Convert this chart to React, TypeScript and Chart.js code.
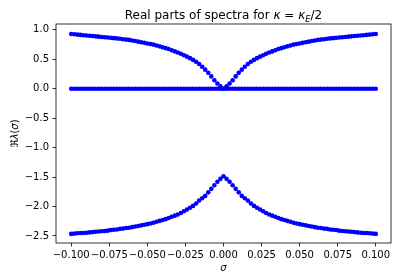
import { useEffect, useRef } from "react";
import { Chart, registerables } from "chart.js";

Chart.register(...registerables);

const FAMILY = '"DejaVu Sans", sans-serif';

const sigma = [
  -0.100, -0.098, -0.096, -0.094, -0.092, -0.090, -0.088, -0.086, -0.084, -0.082,
  -0.080, -0.078, -0.076, -0.074, -0.072, -0.070, -0.068, -0.066, -0.064, -0.062,
  -0.060, -0.058, -0.056, -0.054, -0.052, -0.050, -0.048, -0.046, -0.044, -0.042,
  -0.040, -0.038, -0.036, -0.034, -0.032, -0.030, -0.028, -0.026, -0.024, -0.022,
  -0.020, -0.018, -0.016, -0.014, -0.012, -0.010, -0.008, -0.006, -0.004, -0.002,
  0.000,
  0.002, 0.004, 0.006, 0.008, 0.010, 0.012, 0.014, 0.016, 0.018, 0.020,
  0.022, 0.024, 0.026, 0.028, 0.030, 0.032, 0.034, 0.036, 0.038, 0.040,
  0.042, 0.044, 0.046, 0.048, 0.050, 0.052, 0.054, 0.056, 0.058, 0.060,
  0.062, 0.064, 0.066, 0.068, 0.070, 0.072, 0.074, 0.076, 0.078, 0.080,
  0.082, 0.084, 0.086, 0.088, 0.090, 0.092, 0.094, 0.096, 0.098, 0.100,
];

const upperBranch = [
  0.93, 0.925, 0.92, 0.915, 0.91, 0.905, 0.90, 0.895, 0.89, 0.885,
  0.88, 0.875, 0.87, 0.865, 0.86, 0.855, 0.85, 0.84, 0.835, 0.83,
  0.82, 0.81, 0.80, 0.79, 0.78, 0.77, 0.76, 0.75, 0.735, 0.72,
  0.705, 0.69, 0.675, 0.655, 0.635, 0.615, 0.595, 0.57, 0.545, 0.52,
  0.49, 0.46, 0.42, 0.375, 0.325, 0.27, 0.21, 0.145, 0.09, 0.04,
  0.0,
  0.04, 0.09, 0.145, 0.21, 0.27, 0.325, 0.375, 0.42, 0.46, 0.49,
  0.52, 0.545, 0.57, 0.595, 0.615, 0.635, 0.655, 0.675, 0.69, 0.705,
  0.72, 0.735, 0.75, 0.76, 0.77, 0.78, 0.79, 0.80, 0.81, 0.82,
  0.83, 0.835, 0.84, 0.85, 0.855, 0.86, 0.865, 0.87, 0.875, 0.88,
  0.885, 0.89, 0.895, 0.90, 0.905, 0.91, 0.915, 0.92, 0.925, 0.93,
];

const zeroBranch = [
  0, 0, 0, 0, 0, 0, 0, 0, 0, 0,
  0, 0, 0, 0, 0, 0, 0, 0, 0, 0,
  0, 0, 0, 0, 0, 0, 0, 0, 0, 0,
  0, 0, 0, 0, 0, 0, 0, 0, 0, 0,
  0, 0, 0, 0, 0, 0, 0, 0, 0, 0,
  0,
  0, 0, 0, 0, 0, 0, 0, 0, 0, 0,
  0, 0, 0, 0, 0, 0, 0, 0, 0, 0,
  0, 0, 0, 0, 0, 0, 0, 0, 0, 0,
  0, 0, 0, 0, 0, 0, 0, 0, 0, 0,
  0, 0, 0, 0, 0, 0, 0, 0, 0, 0,
];

const lowerBranch = [
  -2.465, -2.46, -2.455, -2.45, -2.45, -2.445, -2.44, -2.435, -2.43, -2.425,
  -2.42, -2.415, -2.41, -2.40, -2.395, -2.39, -2.38, -2.375, -2.365, -2.36,
  -2.35, -2.34, -2.33, -2.32, -2.31, -2.30, -2.29, -2.275, -2.26, -2.245,
  -2.23, -2.215, -2.195, -2.175, -2.155, -2.135, -2.11, -2.08, -2.05, -2.02,
  -1.99, -1.95, -1.90, -1.86, -1.82, -1.76, -1.70, -1.64, -1.58, -1.53,
  -1.485,
  -1.53, -1.58, -1.64, -1.70, -1.76, -1.82, -1.86, -1.90, -1.95, -1.99,
  -2.02, -2.05, -2.08, -2.11, -2.135, -2.155, -2.175, -2.195, -2.215, -2.23,
  -2.245, -2.26, -2.275, -2.29, -2.30, -2.31, -2.32, -2.33, -2.34, -2.35,
  -2.36, -2.365, -2.375, -2.38, -2.39, -2.395, -2.40, -2.41, -2.415, -2.42,
  -2.425, -2.43, -2.435, -2.44, -2.445, -2.45, -2.45, -2.455, -2.46, -2.465,
];

const xTicks = [-0.1, -0.075, -0.05, -0.025, 0, 0.025, 0.05, 0.075, 0.1];
const yTicks = [-2.5, -2.0, -1.5, -1.0, -0.5, 0.0, 0.5, 1.0];

const fmt = (v: number, d: number) => {
  const s = Math.abs(v) < 1e-9 ? (0).toFixed(d) : v.toFixed(d);
  return s.replace("-", "\u2212");
};

type Part = { text: string; font: string; dy?: number };

function drawRich(ctx: CanvasRenderingContext2D, parts: Part[], cx: number, y: number) {
  let total = 0;
  for (const p of parts) {
    ctx.font = p.font;
    total += ctx.measureText(p.text).width;
  }
  let x = cx - total / 2;
  ctx.textAlign = "left";
  ctx.textBaseline = "alphabetic";
  for (const p of parts) {
    ctx.font = p.font;
    ctx.fillText(p.text, x, y + (p.dy || 0));
    x += ctx.measureText(p.text).width;
  }
}

const titleParts: Part[] = [
  { text: "Real parts of spectra for ", font: `12px ${FAMILY}` },
  { text: "\u03BA", font: `italic 12px ${FAMILY}` },
  { text: " = ", font: `12px ${FAMILY}` },
  { text: "\u03BA", font: `italic 12px ${FAMILY}` },
  { text: "E", font: `italic 8.4px ${FAMILY}`, dy: 2.5 },
  { text: "/2", font: `12px ${FAMILY}` },
];

const xLabelParts: Part[] = [{ text: "\u03C3", font: `italic 10px ${FAMILY}` }];

const yLabelParts: Part[] = [
  { text: "\u211C", font: `10px ${FAMILY}` },
  { text: "\u03BB", font: `italic 10px ${FAMILY}` },
  { text: "(", font: `10px ${FAMILY}` },
  { text: "\u03C3", font: `italic 10px ${FAMILY}` },
  { text: ")", font: `10px ${FAMILY}` },
];

const framePlugin = {
  id: "frameAndLabels",
  afterDraw(chart: any) {
    const { ctx, chartArea } = chart;
    const { left, right, top, bottom } = chartArea;
    ctx.save();
    ctx.strokeStyle = "#000";
    ctx.lineWidth = 0.8;
    ctx.strokeRect(left, top, right - left, bottom - top);
    ctx.fillStyle = "#000";
    const cx = (left + right) / 2;
    drawRich(ctx, titleParts, cx, 19);
    drawRich(ctx, xLabelParts, cx, 271);
    ctx.translate(18, (top + bottom) / 2);
    ctx.rotate(-Math.PI / 2);
    drawRich(ctx, yLabelParts, 0, 0);
    ctx.restore();
  },
};

export default function App() {
  const ref = useRef<HTMLCanvasElement>(null);

  useEffect(() => {
    if (!ref.current) return;
    const mk = (ys: number[]) => sigma.map((s, i) => ({ x: s, y: ys[i] }));
    const ds = (label: string, ys: number[]) => ({
      label,
      data: mk(ys),
      backgroundColor: "#0000ff",
      borderColor: "#0000ff",
      pointRadius: 2.3,
      pointBorderWidth: 0,
      showLine: false,
    });
    const tickFont = { family: FAMILY, size: 10 };
    const chart = new Chart(ref.current, {
      type: "scatter",
      data: {
        datasets: [ds("upper", upperBranch), ds("zero", zeroBranch), ds("lower", lowerBranch)],
      },
      options: {
        animation: false,
        responsive: false,
        layout: { padding: { left: 0, right: 6, top: 24, bottom: 0 } },
        plugins: { legend: { display: false }, tooltip: { enabled: false }, title: { display: false } },
        scales: {
          x: {
            type: "linear",
            min: -0.11,
            max: 0.11,
            afterBuildTicks: (s: any) => {
              s.ticks = xTicks.map((v) => ({ value: v }));
            },
            afterFit: (s: any) => {
              s.height = 37;
            },
            ticks: {
              callback: (v: any) => fmt(Number(v), 3),
              font: tickFont,
              color: "#000",
              padding: 3,
              maxRotation: 0,
              autoSkip: false,
            },
            grid: {
              display: true,
              drawOnChartArea: false,
              drawTicks: true,
              tickLength: 3.5,
              tickWidth: 0.8,
              tickColor: "#000",
            },
            border: { display: false },
          },
          y: {
            type: "linear",
            min: -2.62,
            max: 1.1,
            afterBuildTicks: (s: any) => {
              s.ticks = yTicks.map((v) => ({ value: v }));
            },
            afterFit: (s: any) => {
              s.width = 56;
            },
            ticks: {
              callback: (v: any) => fmt(Number(v), 1),
              font: tickFont,
              color: "#000",
              padding: 3.5,
              autoSkip: false,
            },
            grid: {
              display: true,
              drawOnChartArea: false,
              drawTicks: true,
              tickLength: 3.5,
              tickWidth: 0.8,
              tickColor: "#000",
            },
            border: { display: false },
          },
        },
      },
      plugins: [framePlugin],
    } as any);
    return () => chart.destroy();
  }, []);

  return (
    <div style={{ position: "absolute", left: 0, top: 0, width: 397, height: 280, background: "#fff" }}>
      <canvas ref={ref} width={397} height={280} style={{ display: "block" }} />
    </div>
  );
}
